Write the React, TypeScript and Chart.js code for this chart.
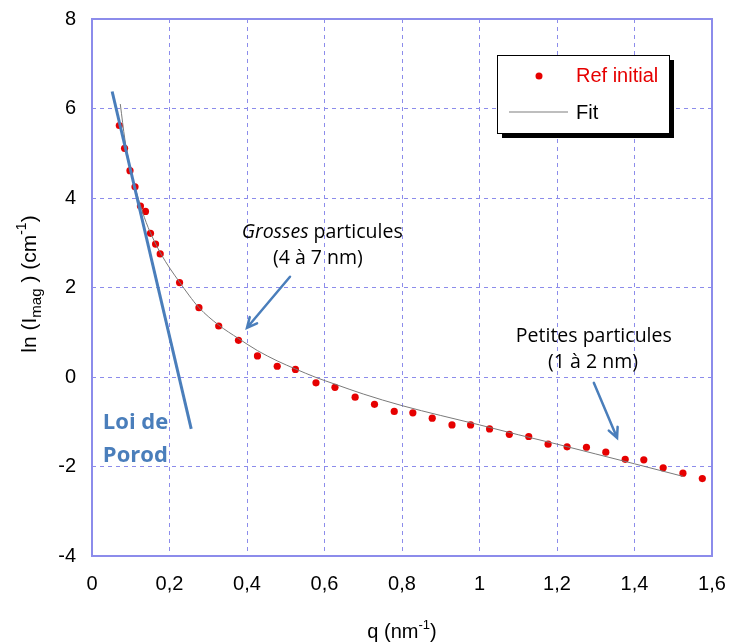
import React, { useEffect, useRef } from 'react';
import { Chart, registerables } from 'chart.js';
Chart.register(...registerables);

// Measured data: q (nm^-1) vs ln(I_mag) (cm^-1)
const refQ = [0.0705, 0.084, 0.098, 0.111, 0.125, 0.138, 0.151, 0.164, 0.176, 0.226, 0.276, 0.327, 0.378, 0.427, 0.478, 0.525, 0.578, 0.627, 0.679, 0.729, 0.78, 0.828, 0.878, 0.929, 0.977, 1.026, 1.077, 1.127, 1.177, 1.226, 1.276, 1.326, 1.376, 1.424, 1.474, 1.525, 1.575];
const refLnI = [5.62, 5.11, 4.61, 4.25, 3.82, 3.7, 3.21, 2.97, 2.75, 2.11, 1.55, 1.14, 0.82, 0.47, 0.24, 0.17, -0.13, -0.23, -0.45, -0.61, -0.77, -0.8, -0.92, -1.07, -1.07, -1.16, -1.28, -1.33, -1.5, -1.56, -1.57, -1.68, -1.84, -1.85, -2.03, -2.15, -2.27];

// Fit curve
const fitQ = [0.073, 0.085, 0.1, 0.12, 0.14, 0.16, 0.18, 0.2, 0.226, 0.25, 0.276, 0.327, 0.378, 0.427, 0.478, 0.525, 0.578, 0.627, 0.7, 0.8, 0.9, 1.0, 1.1, 1.2, 1.3, 1.4, 1.525];
const fitLnI = [6.1, 5.3, 4.62, 3.97, 3.45, 3.05, 2.72, 2.44, 2.12, 1.83, 1.55, 1.16, 0.86, 0.59, 0.36, 0.18, -0.01, -0.16, -0.38, -0.64, -0.86, -1.07, -1.29, -1.5, -1.72, -1.94, -2.22];

// Porod law line
const porodQ = [0.052, 0.256];
const porodLnI = [6.38, -1.16];

// Axes
const xMin = 0, xMax = 1.6, xStep = 0.2;
const yMin = -4, yMax = 8, yStep = 2;

const seriesNames = ['Ref initial', 'Fit'];

const toPts = (xs: number[], ys: number[]) => xs.map((x, i) => ({ x, y: ys[i] }));
const fmt = (v: number) => String(Math.round(v * 10) / 10).replace('.', ',');

const BLUE = '#4a7ebb';
const GRID = 'rgb(140,140,235)';
const SANS = '"Liberation Sans", Arial, sans-serif';
const CAL = '"Open Sans", sans-serif';

type Part = { t: string; f: string; dy?: number; c?: string };

function richWidth(ctx: CanvasRenderingContext2D, parts: Part[]) {
  let w = 0;
  for (const p of parts) { ctx.font = p.f; w += ctx.measureText(p.t).width; }
  return w;
}
function drawRich(ctx: CanvasRenderingContext2D, parts: Part[], x: number, y: number, color: string) {
  let cx = x - richWidth(ctx, parts) / 2;
  ctx.textBaseline = 'middle';
  ctx.textAlign = 'left';
  for (const p of parts) {
    ctx.font = p.f;
    ctx.fillStyle = p.c || color;
    ctx.fillText(p.t, cx, y + (p.dy || 0));
    cx += ctx.measureText(p.t).width;
  }
}
function arrow(ctx: CanvasRenderingContext2D, x1: number, y1: number, x2: number, y2: number) {
  ctx.save();
  ctx.strokeStyle = BLUE;
  ctx.lineWidth = 2.5;
  ctx.lineCap = 'round';
  ctx.beginPath();
  ctx.moveTo(x1, y1);
  ctx.lineTo(x2, y2);
  const a = Math.atan2(y2 - y1, x2 - x1);
  const L = 11, s = 0.45;
  ctx.moveTo(x2 - L * Math.cos(a - s), y2 - L * Math.sin(a - s));
  ctx.lineTo(x2, y2);
  ctx.lineTo(x2 - L * Math.cos(a + s), y2 - L * Math.sin(a + s));
  ctx.stroke();
  ctx.restore();
}

const noPad = (s: any) => {
  s.paddingLeft = 0;
  s.paddingRight = 0;
  s.paddingTop = 0;
  s.paddingBottom = 0;
};

const decor = {
  id: 'decor',
  afterDraw(chart: any) {
    const ctx: CanvasRenderingContext2D = chart.ctx;
    const { chartArea: ca, scales } = chart;
    const X = (v: number) => scales.x.getPixelForValue(v);
    const Y = (v: number) => scales.y.getPixelForValue(v);
    ctx.save();
    // frame
    ctx.strokeStyle = GRID;
    ctx.lineWidth = 2;
    ctx.strokeRect(ca.left, ca.top, ca.right - ca.left, ca.bottom - ca.top);

    // Legend box with shadow
    const lx = Math.round(X(1.045)), ly = Math.round(Y(7.2)), lw = 172, lh = 78;
    ctx.fillStyle = '#000';
    ctx.fillRect(lx + 5, ly + 5, lw, lh);
    ctx.fillStyle = '#fff';
    ctx.fillRect(lx, ly, lw, lh);
    ctx.strokeStyle = '#000';
    ctx.lineWidth = 1;
    ctx.strokeRect(lx + 0.5, ly + 0.5, lw, lh);
    ctx.fillStyle = 'rgb(230,0,0)';
    ctx.beginPath();
    ctx.arc(lx + 42, ly + 21, 3.5, 0, Math.PI * 2);
    ctx.fill();
    ctx.strokeStyle = '#a8a8a8';
    ctx.lineWidth = 1.5;
    ctx.beginPath();
    ctx.moveTo(lx + 12, ly + 57);
    ctx.lineTo(lx + 71, ly + 57);
    ctx.stroke();
    ctx.font = '20px ' + SANS;
    ctx.textBaseline = 'middle';
    ctx.textAlign = 'left';
    ctx.fillStyle = 'rgb(230,0,0)';
    ctx.fillText(seriesNames[0], lx + 79, ly + 21);
    ctx.fillStyle = '#000';
    ctx.fillText(seriesNames[1], lx + 79, ly + 58);

    // Annotations
    drawRich(ctx, [
      { t: 'Grosses', f: 'italic 19.5px ' + CAL },
      { t: ' particules', f: '19.5px ' + CAL },
    ], X(0.594), Y(3.23), '#000');
    drawRich(ctx, [{ t: '(4 à 7 nm)', f: '19.5px ' + CAL }], X(0.583), Y(2.64), '#000');
    arrow(ctx, X(0.511), Y(2.24), X(0.4), Y(1.1));

    drawRich(ctx, [{ t: 'Petites particules', f: '19.5px ' + CAL }], X(1.295), Y(0.9), '#000');
    drawRich(ctx, [{ t: '(1 à 2 nm)', f: '19.5px ' + CAL }], X(1.293), Y(0.32), '#000');
    arrow(ctx, X(1.295), Y(-0.13), X(1.355), Y(-1.36));

    ctx.font = 'bold 22px ' + CAL;
    ctx.fillStyle = BLUE;
    ctx.textAlign = 'left';
    ctx.textBaseline = 'middle';
    ctx.fillText('Loi de', X(0.028), Y(-1.03));
    ctx.fillText('Porod', X(0.028), Y(-1.77));

    // Axis titles
    drawRich(ctx, [
      { t: 'q (nm', f: '20px ' + SANS },
      { t: '-1', f: '13px ' + SANS, dy: -7 },
      { t: ')', f: '20px ' + SANS },
    ], (ca.left + ca.right) / 2, 632, '#000');

    ctx.translate(30, 284);
    ctx.rotate(-Math.PI / 2);
    drawRich(ctx, [
      { t: 'ln (I', f: '21px ' + SANS },
      { t: 'mag', f: '15px ' + SANS, dy: 7 },
      { t: ' ) (cm', f: '21px ' + SANS },
      { t: '-1', f: '14px ' + SANS, dy: -8 },
      { t: ')', f: '21px ' + SANS },
    ], 0, 0, '#000');
    ctx.restore();
  },
};

export default function App() {
  const ref = useRef<HTMLCanvasElement>(null);
  useEffect(() => {
    document.body.style.margin = '0';
    const chart = new Chart(ref.current!, {
      type: 'scatter',
      data: {
        datasets: [
          {
            label: 'Loi de Porod',
            data: toPts(porodQ, porodLnI),
            showLine: true,
            borderColor: BLUE,
            borderWidth: 3,
            pointRadius: 0,
          },
          {
            label: seriesNames[1],
            data: toPts(fitQ, fitLnI),
            showLine: true,
            borderColor: '#7a7a7a',
            borderWidth: 1,
            pointRadius: 0,
            cubicInterpolationMode: 'monotone',
          },
          {
            label: seriesNames[0],
            data: toPts(refQ, refLnI),
            backgroundColor: 'rgb(230,0,0)',
            borderColor: 'rgb(230,0,0)',
            pointRadius: 3.6,
            borderWidth: 0,
          },
        ],
      } as any,
      options: {
        animation: false,
        responsive: false,
        layout: { padding: { left: 0, top: 19, right: 17, bottom: 0 } },
        plugins: { legend: { display: false }, tooltip: { enabled: false } },
        scales: {
          x: {
            type: 'linear',
            min: xMin,
            max: xMax,
            afterFit: (s: any) => { s.height = 87; noPad(s); },
            ticks: {
              stepSize: xStep,
              callback: (v: any) => fmt(Number(v)),
              font: { family: SANS, size: 20 },
              color: '#000',
              padding: 16,
              maxRotation: 0,
              autoSkip: false,
            },
            grid: { color: GRID, lineWidth: 1, drawTicks: false },
            border: { display: false, dash: [4, 4] },
          },
          y: {
            type: 'linear',
            min: yMin,
            max: yMax,
            afterFit: (s: any) => { s.width = 92; noPad(s); },
            ticks: {
              stepSize: yStep,
              callback: (v: any) => fmt(Number(v)),
              font: { family: SANS, size: 20 },
              color: '#000',
              padding: 16,
              autoSkip: false,
            },
            grid: { color: GRID, lineWidth: 1, drawTicks: false },
            border: { display: false, dash: [4, 4] },
          },
        },
      } as any,
      plugins: [decor],
    });
    return () => chart.destroy();
  }, []);
  return <canvas ref={ref} width={729} height={643} style={{ display: 'block' }} />;
}
